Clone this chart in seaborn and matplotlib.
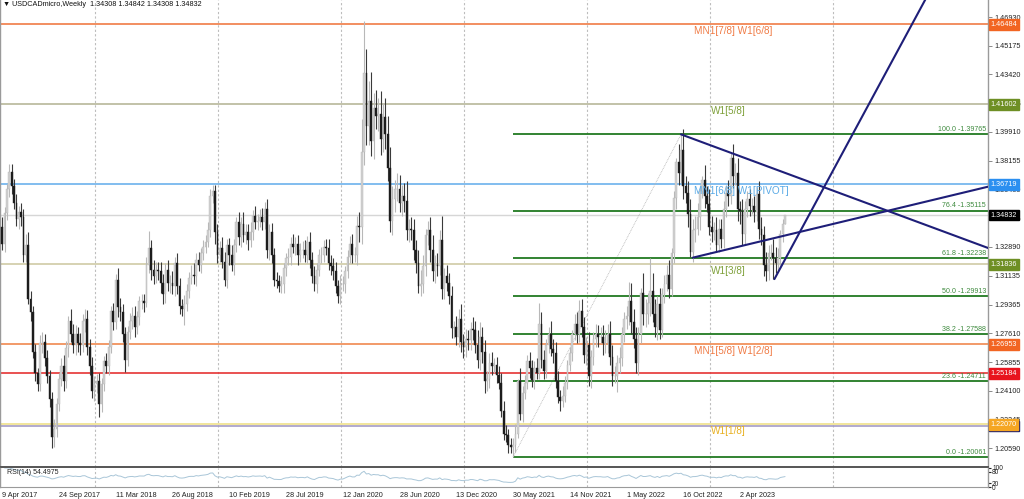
import numpy as np
import pandas as pd
import matplotlib
matplotlib.use('Agg')
import matplotlib.pyplot as plt
import seaborn as sns

# USDCADmicro weekly, bar 0 = week of 9 Apr 2017, prices in 1e-4
first_open = 13410
closes = [
    13310, 13495, 13645, 13745, 13660, 13560, 13460, 13500, 13470, 13240,
    13300, 12970, 12890, 12650, 12520, 12450, 12700, 12710, 12610, 12500,
    12360, 12130, 12180, 12330, 12480, 12560, 12470, 12670, 12840, 12760,
    12690, 12760, 12700, 12690, 12840, 12850, 12680, 12560, 12410, 12450,
    12470, 12330, 12450, 12590, 12560, 12680, 12900, 12830, 13090, 12920,
    12890, 12760, 12600, 12770, 12840, 12870, 12800, 12860, 12960, 12960,
    12950, 13180, 13280, 13150, 13110, 13150, 13140, 13070, 13000, 13150,
    13070, 13070, 13050, 13190, 13050, 12930, 12910, 12940, 13020, 13100,
    13120, 13110, 13210, 13180, 13250, 13290, 13320, 13390, 13600, 13630,
    13380, 13240, 13280, 13200, 13090, 13300, 13240, 13180, 13300, 13440,
    13350, 13430, 13360, 13380, 13330, 13380, 13480, 13440, 13450, 13470,
    13440, 13520, 13270, 13380, 13240, 13090, 13080, 13050, 13060, 13160,
    13220, 13230, 13310, 13290, 13310, 13240, 13270, 13270, 13240, 13320,
    13210, 13110, 13060, 13150, 13240, 13240, 13290, 13280, 13190, 13170,
    13140, 13050, 12990, 13060, 13060, 13140, 13230, 13310, 13240, 13240,
    13420, 13410, 13870, 14350, 14030, 14180, 13935, 14140, 14090, 14100,
    13950, 14080, 13980, 13770, 13450, 13580, 13640, 13640, 13560, 13600,
    13570, 13390, 13400, 13390, 13270, 13190, 13050, 13060, 13170, 13360,
    13390, 13270, 13140, 13180, 13170, 13330, 13030, 13110, 13070, 12990,
    12795, 12800, 12740, 12850, 12710, 12680, 12730, 12720, 12790, 12780,
    12690, 12600, 12740, 12650, 12470, 12480, 12580, 12560, 12570, 12510,
    12460, 12290, 12150, 12140, 12080, 12070, 12080, 12150, 12470, 12270,
    12400, 12460, 12590, 12550, 12475, 12550, 12520, 12820, 12600, 12530,
    12690, 12760, 12665, 12640, 12470, 12375, 12350, 12380, 12460, 12570,
    12640, 12760, 12820, 12760, 12900, 12800, 12630, 12690, 12500, 12620,
    12730, 12760, 12740, 12740, 12700, 12700, 12760, 12620, 12500, 12500,
    12580, 12610, 12760, 12850, 12870, 12960, 12830, 12730, 12580, 12760,
    13010, 12880, 12880, 12950, 13020, 12880, 12800, 12940, 12780, 13000,
    13060, 13120, 13030, 13250, 13590, 13810, 13740, 13880, 13660, 13620,
    13490, 13260, 13390, 13400, 13470, 13630, 13700, 13600, 13550, 13410,
    13380, 13390, 13300, 13400, 13340, 13520, 13620, 13600, 13830, 13720,
    13740, 13520, 13510, 13370, 13520, 13580, 13540, 13540, 13500, 13610,
    13400, 13360, 13180, 13140, 13250, 13250, 13220, 13190, 13220, 13370,
    13431, 13483,
]
upper_wick = [
    60, 40, 30, 48, 50, 45, 55, 40, 60, 50,
    70, 80, 50, 40, 45, 30, 50, 60, 45, 50,
    40, 45, 60, 35, 40, 50, 70, 45, 30, 70,
    60, 50, 40, 65, 40, 60, 55, 45, 60, 50,
    45, 50, 40, 35, 50, 40, 30, 50, 35, 70,
    60, 50, 40, 35, 45, 50, 60, 40, 30, 40,
    40, 50, 106, 50, 60, 45, 50, 60, 55, 40,
    60, 50, 70, 40, 60, 50, 40, 55, 40, 35,
    60, 70, 40, 50, 35, 40, 45, 50, 40, 35,
    35, 50, 45, 70, 60, 40, 45, 60, 40, 30,
    60, 45, 70, 50, 50, 60, 35, 60, 40, 50,
    60, 45, 60, 50, 55, 40, 45, 40, 50, 30,
    35, 50, 40, 60, 40, 50, 45, 55, 60, 35,
    60, 50, 60, 40, 35, 50, 40, 45, 60, 50,
    50, 60, 40, 55, 50, 35, 40, 45, 60, 50,
    60, 80, 200, 318, 150, 120, 180, 90, 110, 100,
    140, 90, 120, 110, 130, 80, 60, 100, 90, 70,
    80, 120, 60, 70, 70, 60, 80, 90, 70, 40,
    60, 80, 90, 60, 70, 60, 150, 50, 70, 60,
    60, 40, 70, 60, 90, 50, 60, 50, 40, 70,
    60, 90, 90, 60, 70, 50, 60, 70, 40, 50,
    50, 60, 60, 50, 40, 40, 40, 60, 15, 80,
    40, 50, 40, 60, 50, 40, 60, 129, 70, 60,
    40, 40, 80, 60, 70, 60, 40, 60, 40, 30,
    40, 20, 60, 70, 64, 70, 60, 50, 80, 40,
    40, 60, 50, 60, 70, 80, 60, 80, 70, 60,
    50, 70, 40, 40, 60, 116, 110, 80, 70, 40,
    30, 120, 90, 60, 204, 110, 90, 50, 100, 40,
    60, 60, 90, 30, 40, 20, 110, 97, 130, 60,
    70, 90, 70, 80, 90, 40, 20, 90, 60, 90,
    70, 50, 80, 60, 60, 50, 50, 80, 32, 90,
    60, 90, 50, 70, 50, 50, 60, 50, 60, 45,
    80, 70, 60, 80, 50, 60, 90, 70, 60, 20,
    30, 1,
]
lower_wick = [
    40, 50, 40, 50, 45, 40, 40, 60, 50, 40,
    40, 30, 50, 40, 50, 40, 40, 60, 50, 40,
    50, 69, 60, 50, 40, 40, 60, 40, 50, 50,
    50, 60, 50, 60, 40, 70, 50, 50, 40, 60,
    50, 80, 50, 40, 40, 50, 40, 50, 40, 60,
    50, 50, 73, 40, 40, 50, 60, 40, 50, 50,
    60, 30, 50, 60, 50, 40, 50, 60, 60, 50,
    50, 60, 50, 60, 50, 50, 40, 100, 40, 40,
    40, 50, 60, 40, 50, 40, 40, 30, 40, 40,
    70, 50, 40, 40, 40, 50, 60, 40, 60, 40,
    50, 60, 40, 50, 60, 40, 50, 40, 50, 40,
    50, 40, 50, 60, 50, 40, 40, 34, 40, 50,
    50, 40, 50, 40, 50, 60, 40, 50, 40, 50,
    50, 40, 40, 50, 40, 50, 40, 40, 40, 50,
    50, 40, 40, 50, 40, 50, 40, 40, 50, 40,
    60, 90, 100, 80, 120, 120, 90, 110, 80, 90,
    100, 80, 90, 80, 70, 90, 80, 70, 60, 80,
    70, 60, 70, 60, 60, 60, 40, 60, 50, 60,
    60, 70, 60, 70, 60, 50, 60, 60, 50, 50,
    60, 60, 50, 60, 60, 70, 60, 60, 60, 60,
    50, 50, 60, 70, 70, 60, 50, 50, 40, 50,
    40, 40, 40, 40, 50, 40, 63, 40, 30, 40,
    50, 40, 40, 60, 40, 50, 40, 40, 50, 50,
    40, 50, 40, 60, 40, 40, 62, 40, 40, 40,
    40, 50, 40, 60, 50, 60, 50, 60, 60, 70,
    50, 50, 60, 40, 70, 60, 60, 50, 60, 40,
    97, 60, 50, 50, 60, 60, 70, 60, 62, 70,
    60, 70, 80, 60, 80, 50, 60, 80, 53, 40,
    50, 40, 50, 40, 60, 70, 70, 60, 80, 60,
    80, 34, 60, 70, 40, 80, 40, 70, 50, 50,
    60, 50, 38, 40, 60, 60, 50, 60, 50, 70,
    50, 70, 80, 70, 60, 50, 60, 50, 60, 50,
    60, 60, 70, 60, 50, 40, 127, 60, 50, 40,
    50, 0,
]

date_labels = ['9 Apr 2017', '24 Sep 2017', '11 Mar 2018', '26 Aug 2018', '10 Feb 2019',
               '28 Jul 2019', '12 Jan 2020', '28 Jun 2020', '13 Dec 2020', '30 May 2021',
               '14 Nov 2021', '1 May 2022', '16 Oct 2022', '2 Apr 2023']
price_ticks = [1.46930, 1.45175, 1.43420, 1.41665, 1.39910, 1.38155, 1.36400, 1.34645,
               1.32890, 1.31135, 1.29365, 1.27610, 1.25855, 1.24100, 1.22345, 1.20590]

# murrey / pivot levels
level_prices = [1.46484, 1.41602, 1.36719, 1.31836, 1.26953, 1.25184, 1.22070, 1.21961]
level_names = ['MN1[7/8] W1[6/8]', 'W1[5/8]', 'MN1[6/8] W1[PIVOT]', 'W1[3/8]',
               'MN1[5/8] W1[2/8]', '', 'W1[1/8]', '']
level_line_colors = ['#F07B45', '#B8B89A', '#6CB2EC', '#CFCBA6', '#F0894F', '#E53333', '#EFE08A', '#A49CC6']
level_box_colors = ['#F26522', '#6E8F24', '#2B8FF0', '#6E8F24', '#F26522', '#E8141E', '#F5A623', '#1B1B6E']
level_text_colors = ['#F07B45', '#7FA03A', '#5AAAE6', '#7FA03A', '#F07B45', None, '#E8B020', None]

# fibonacci (from the May 2021 low to the Oct 2022 high)
fib_pct = [100.0, 76.4, 61.8, 50.0, 38.2, 23.6, 0.0]
fib_prices = [1.39765, 1.35115, 1.32238, 1.29913, 1.27588, 1.24711, 1.20061]
fib_start_bar = 216
fib_end_bar = 287

# trendlines (bar, price)
trend_down = [(287, 1.39765), (416.8, 1.3283)]
trend_up = [(292, 1.32238), (416.8, 1.3657)]
trend_steep = [(326.5, 1.3093), (400.0, 1.5059)]

bid_price = 1.34832
rsi_label = 'RSI(14) 54.4975'
title = '▼ USDCADmicro,Weekly  1.34308 1.34842 1.34308 1.34832'

# ---- build ohlc ----
c = np.array(closes) / 1e4
o = np.concatenate([[first_open / 1e4], c[:-1]])
h = np.maximum(o, c) + np.array(upper_wick) / 1e4
l = np.minimum(o, c) - np.array(lower_wick) / 1e4
df = pd.DataFrame({'bar': np.arange(len(c)), 'open': o, 'high': h, 'low': l, 'close': c})
df['bull'] = df['close'] >= df['open']

# RSI(14), Wilder smoothing
d = df['close'].diff()
up = d.clip(lower=0).ewm(alpha=1 / 14, adjust=False).mean()
dn = (-d.clip(upper=0)).ewm(alpha=1 / 14, adjust=False).mean()
df['rsi'] = 100 - 100 / (1 + up / dn)

sns.set_style('white')
plt.rcParams['font.family'] = ['Liberation Sans', 'DejaVu Sans']
FS = 5.2

fig = plt.figure(figsize=(10.24, 4.99), dpi=100)
ax = fig.add_axes([0, 32 / 499, 988 / 1024, 467 / 499])
rax = fig.add_axes([0, 12 / 499, 988 / 1024, 19 / 499])

xlim = (-0.93, 416.8)
ax.set_xlim(*xlim)
ax.set_ylim(1.19458, 1.47968)
rax.set_xlim(*xlim)
rax.set_ylim(0, 100)

# vertical grid
for gx in np.arange(39.2, 360, 52):
    for a in (ax, rax):
        a.axvline(gx, color='#BDBDBD', lw=0.8, ls=(0, (2, 2)), zorder=0)

# horizontal levels
ax.axhline(bid_price, color='#D6D6D6', lw=1, zorder=1)
for p, lc in zip(level_prices, level_line_colors):
    ax.axhline(p, color=lc, lw=1.2, zorder=1)

# fib lines + labels
ax.plot([fib_start_bar, fib_end_bar], [fib_prices[-1], fib_prices[0]],
        color='#B5B5B5', lw=0.6, ls=(0, (1, 1)), zorder=2)
for pct, p in zip(fib_pct, fib_prices):
    ax.hlines(p, fib_start_bar, xlim[1], color='#217A21', lw=1.3, zorder=2)
    ax.text(416.0, p + 0.0007, f'{pct:.1f} -{p:.5f}', ha='right', va='bottom',
            color='#3D8A3D', fontsize=FS - 0.1, zorder=6)

# candles
bull = df[df['bull']]
bear = df[~df['bull']]
ax.vlines(bull['bar'], bull['low'], bull['high'], color='#B8B8B8', lw=0.8, zorder=3)
ax.vlines(bear['bar'], bear['low'], bear['high'], color='#3A3A3A', lw=0.8, zorder=3)
ax.bar(bull['bar'], (bull['close'] - bull['open']).clip(lower=0.00015), bottom=bull['open'],
       width=0.75, color='#D0D0D0', edgecolor='#B8B8B8', lw=0.3, zorder=4)
ax.bar(bear['bar'], (bear['open'] - bear['close']).clip(lower=0.00015), bottom=bear['close'],
       width=0.75, color='#1C1C1C', edgecolor='#1C1C1C', lw=0.3, zorder=4)

# trendlines
for tl in (trend_down, trend_up, trend_steep):
    ax.plot([tl[0][0], tl[1][0]], [tl[0][1], tl[1][1]], color='#1E1E78', lw=1.5, zorder=5)

# level names
for p, name, tc in zip(level_prices, level_names, level_text_colors):
    if not name:
        continue
    xs = 292.5 if name.startswith('MN1') else 299.7
    ax.annotate(name, xy=(xs, p), xytext=(0, -1.5), textcoords='offset points',
                ha='left', va='top', color=tc, fontsize=7.2, zorder=7)

# right axis
ax.yaxis.tick_right()
ax.set_yticks(price_ticks)
ax.set_yticklabels([f'{t:.5f}' for t in price_ticks])
ax.tick_params(axis='y', length=3, width=0.6, color='#777777', pad=1.5, labelsize=FS, labelcolor='#222222')
ax.set_xticks([])

# price boxes
box_prices = level_prices[::-1] + [bid_price]
box_colors = level_box_colors[::-1] + ['#000000']
for p, bc in zip(box_prices, box_colors):
    ax.annotate(f'{p:.5f}', xy=(1.0, p), xycoords=('axes fraction', 'data'),
                xytext=(1.8, 0), textcoords='offset points', ha='left', va='center',
                color='white', fontsize=FS, zorder=10, annotation_clip=False,
                bbox=dict(boxstyle='square,pad=0.25', fc=bc, ec=bc))

for a in (ax, rax):
    a.spines['top'].set_visible(False)
    for s in ('left', 'right'):
        a.spines[s].set_color('#9A9A9A')
        a.spines[s].set_linewidth(1.0)
ax.spines['bottom'].set_color('#555555')
ax.spines['bottom'].set_linewidth(1.4)
rax.spines['bottom'].set_color('#9A9A9A')

# RSI window
sns.lineplot(data=df, x='bar', y='rsi', ax=rax, color='#A9C6D8', lw=0.7)
rax.set_xlabel('')
rax.set_ylabel('')
rax.yaxis.tick_right()
rax.set_yticks([0, 20, 80, 100])
rax.set_yticklabels(['0', '20', '80', '100'])
rax.tick_params(axis='y', length=2, pad=1, labelsize=FS - 0.4, colors='#222222')
rax.set_xticks(np.arange(len(date_labels)) * 24)
rax.set_xticklabels(date_labels, ha='left')
rax.tick_params(axis='x', length=2, pad=1.5, labelsize=FS, colors='#222222')
rax.text(2, 96, rsi_label, ha='left', va='top', fontsize=FS - 0.2, color='#222222')

fig.text(3 / 1024, 1 - 5 / 499, title, ha='left', va='center', fontsize=FS,
         color='#111111')

fig.savefig('out.png', dpi=100)
